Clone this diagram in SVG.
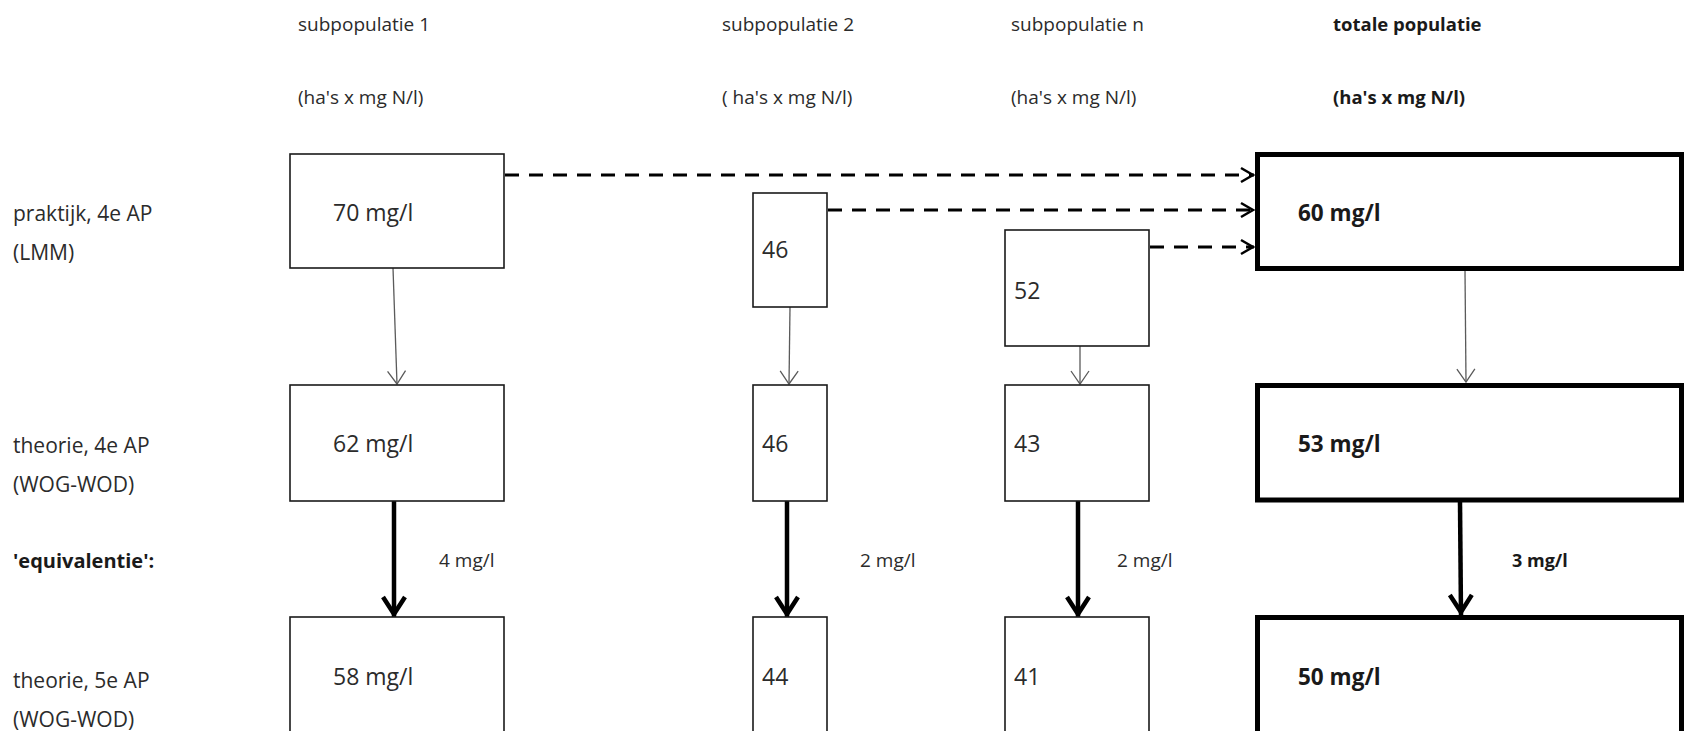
<svg xmlns="http://www.w3.org/2000/svg" width="1686" height="731" viewBox="0 0 1686 731">
  <style>
    text { font-family: "Open Sans", "Liberation Sans", sans-serif; fill: #2b2b2b; }
    .head { font-size: 19px; }
    .headb { font-size: 18.5px; font-weight: bold; fill: #1a1a1a; }
    .row { font-size: 21px; }
    .rowb { font-size: 20px; font-weight: bold; fill: #1a1a1a; }
    .val { font-size: 23px; }
    .valb { font-size: 22.5px; font-weight: bold; fill: #1a1a1a; }
    .eq { font-size: 19px; }
    .eqb { font-size: 18px; font-weight: bold; fill: #1a1a1a; }
    .box { fill: #fff; stroke: #1a1a1a; stroke-width: 1.6; }
    .boxb { fill: #fff; stroke: #000; stroke-width: 5; }
    .thin { stroke: #5a5a5a; stroke-width: 1.3; fill: none; marker-end: url(#headThin); }
    .thick { stroke: #000; stroke-width: 4.5; fill: none; marker-end: url(#headThick); }
    .dash { stroke: #000; stroke-width: 3; fill: none; stroke-dasharray: 14 10; marker-end: url(#headDash); }
  </style>
  <defs>
    <marker id="headThin" markerUnits="userSpaceOnUse" viewBox="-16 -12 20 24" refX="0" refY="0" markerWidth="20" markerHeight="24" orient="auto">
      <path d="M-13,-9 L0,0 L-13,9" fill="none" stroke="#5a5a5a" stroke-width="1.3"/>
    </marker>
    <marker id="headThick" markerUnits="userSpaceOnUse" viewBox="-26 -16 30 32" refX="0" refY="0" markerWidth="30" markerHeight="32" orient="auto">
      <path d="M-20,-11 L-3,0 L-20,11" fill="none" stroke="#000" stroke-width="4.5"/>
    </marker>
    <marker id="headDash" markerUnits="userSpaceOnUse" viewBox="-18 -12 22 24" refX="0" refY="0" markerWidth="22" markerHeight="24" orient="auto">
      <path d="M-13,-7 L-1,0 L-13,7" fill="none" stroke="#000" stroke-width="2.5"/>
    </marker>
  </defs>

  <!-- column headings -->
  <g id="headings">
    <text class="head" x="298" y="31">subpopulatie 1</text>
    <text class="head" x="298" y="104">(ha's x mg N/l)</text>
    <text class="head" x="722" y="31">subpopulatie 2</text>
    <text class="head" x="722" y="104">( ha's x mg N/l)</text>
    <text class="head" x="1011" y="31">subpopulatie n</text>
    <text class="head" x="1011" y="104">(ha's x mg N/l)</text>
    <text class="headb" x="1333" y="31">totale populatie</text>
    <text class="headb" x="1333" y="104">(ha's x mg N/l)</text>
  </g>

  <!-- row labels -->
  <g id="row-labels">
    <text class="row" x="13" y="221">praktijk, 4e AP</text>
    <text class="row" x="13" y="260">(LMM)</text>
    <text class="row" x="13" y="453">theorie, 4e AP</text>
    <text class="row" x="13" y="492">(WOG-WOD)</text>
    <text class="rowb" x="13" y="568">'equivalentie':</text>
    <text class="row" x="13" y="688">theorie, 5e AP</text>
    <text class="row" x="13" y="727">(WOG-WOD)</text>
  </g>

  <!-- connectors -->
  <g id="connectors">
    <line class="dash" x1="505" y1="175" x2="1254" y2="175"/>
    <line class="dash" x1="828" y1="210" x2="1254" y2="210"/>
    <line class="dash" x1="1150" y1="247" x2="1254" y2="247"/>

    <line class="thin" x1="393" y1="268" x2="397" y2="384"/>
    <line class="thin" x1="790" y1="307" x2="789" y2="384"/>
    <line class="thin" x1="1080" y1="346" x2="1080" y2="384"/>
    <line class="thin" x1="1465" y1="271" x2="1466" y2="382"/>

    <line class="thick" x1="394" y1="501" x2="394" y2="617"/>
    <line class="thick" x1="787" y1="501" x2="787" y2="617"/>
    <line class="thick" x1="1078" y1="501" x2="1078" y2="617"/>
    <line class="thick" x1="1460" y1="502" x2="1461" y2="615"/>
  </g>

  <g id="equivalence-labels">
    <text class="eq" x="439" y="567">4 mg/l</text>
    <text class="eq" x="860" y="567">2 mg/l</text>
    <text class="eq" x="1117" y="567">2 mg/l</text>
    <text class="eqb" x="1512" y="567">3 mg/l</text>
  </g>

  <!-- subpopulatie 1 -->
  <g id="sub1-praktijk4">
    <rect class="box" x="290" y="154" width="214" height="114"/>
    <text class="val" x="333" y="221">70 mg/l</text>
  </g>
  <g id="sub1-theorie4">
    <rect class="box" x="290" y="385" width="214" height="116"/>
    <text class="val" x="333" y="452">62 mg/l</text>
  </g>
  <g id="sub1-theorie5">
    <rect class="box" x="290" y="617" width="214" height="116"/>
    <text class="val" x="333" y="685">58 mg/l</text>
  </g>

  <!-- subpopulatie 2 -->
  <g id="sub2-praktijk4">
    <rect class="box" x="753" y="193" width="74" height="114"/>
    <text class="val" x="762" y="258">46</text>
  </g>
  <g id="sub2-theorie4">
    <rect class="box" x="753" y="385" width="74" height="116"/>
    <text class="val" x="762" y="452">46</text>
  </g>
  <g id="sub2-theorie5">
    <rect class="box" x="753" y="617" width="74" height="116"/>
    <text class="val" x="762" y="685">44</text>
  </g>

  <!-- subpopulatie n -->
  <g id="subn-praktijk4">
    <rect class="box" x="1005" y="230" width="144" height="116"/>
    <text class="val" x="1014" y="299">52</text>
  </g>
  <g id="subn-theorie4">
    <rect class="box" x="1005" y="385" width="144" height="116"/>
    <text class="val" x="1014" y="452">43</text>
  </g>
  <g id="subn-theorie5">
    <rect class="box" x="1005" y="617" width="144" height="116"/>
    <text class="val" x="1014" y="685">41</text>
  </g>

  <!-- totale populatie -->
  <g id="total-praktijk4">
    <rect class="boxb" x="1257.5" y="154.5" width="424" height="114"/>
    <text class="valb" x="1298" y="221">60 mg/l</text>
  </g>
  <g id="total-theorie4">
    <rect class="boxb" x="1257.5" y="385.5" width="424" height="114.5"/>
    <text class="valb" x="1298" y="452">53 mg/l</text>
  </g>
  <g id="total-theorie5">
    <rect class="boxb" x="1257.5" y="617.5" width="424" height="120"/>
    <text class="valb" x="1298" y="685">50 mg/l</text>
  </g>
</svg>
